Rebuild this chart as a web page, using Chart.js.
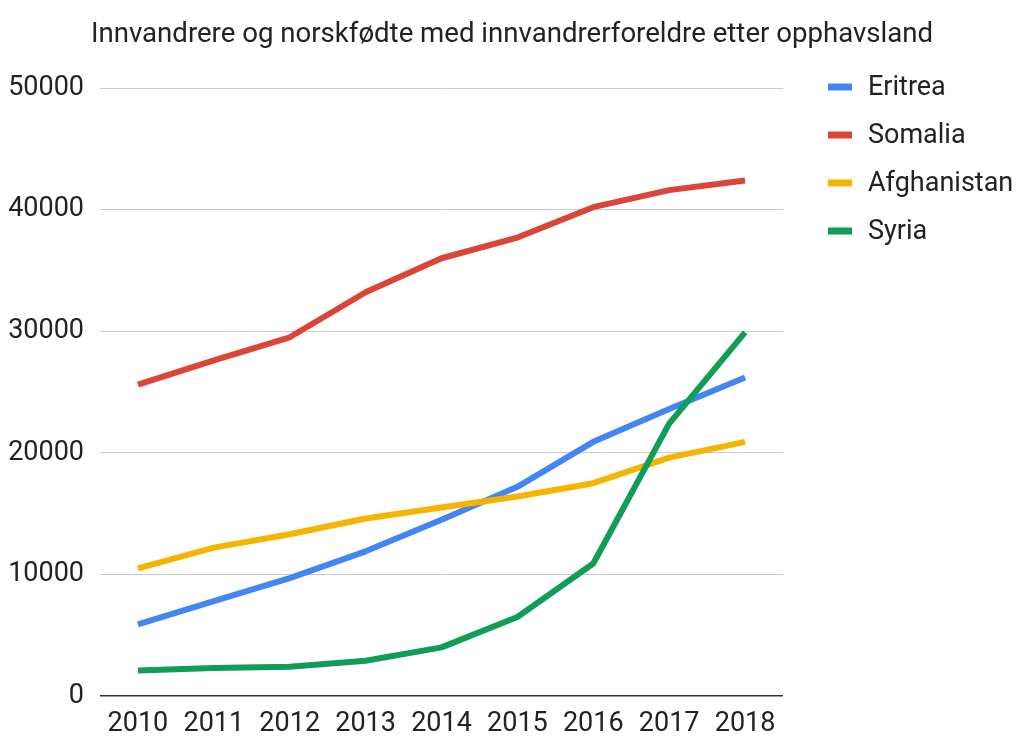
<!DOCTYPE html>
<html>
<head>
<meta charset="utf-8">
<script src="https://cdn.jsdelivr.net/npm/chart.js@4/dist/chart.umd.min.js"></script>
<style>
  html, body { margin: 0; padding: 0; background: #fff; }
  #wrap { width: 1024px; height: 753px; position: relative; }
</style>
</head>
<body>
<div id="wrap"><canvas id="c"></canvas></div>
<script>
const titleText = "Innvandrere og norskfødte med innvandrerforeldre etter opphavsland";
const years = ["2010","2011","2012","2013","2014","2015","2016","2017","2018"];
const yTicks = [0, 10000, 20000, 30000, 40000, 50000];
const seriesNames = ["Eritrea", "Somalia", "Afghanistan", "Syria"];
const seriesColors = ["#4285F4", "#DB4437", "#F4B400", "#0F9D58"];
const eritrea     = [5900, 7800, 9700, 11900, 14500, 17200, 20900, 23600, 26200];
const somalia     = [25600, 27600, 29500, 33200, 36000, 37700, 40200, 41600, 42400];
const afghanistan = [10500, 12200, 13300, 14600, 15500, 16400, 17500, 19600, 20900];
const syria       = [2100, 2300, 2400, 2900, 4000, 6500, 10900, 22400, 29900];
const seriesValues = [eritrea, somalia, afghanistan, syria];

const FONT = "Roboto, 'Noto Sans', sans-serif";

const datasets = seriesNames.map((name, i) => ({
  label: name,
  data: seriesValues[i],
  borderColor: seriesColors[i],
  backgroundColor: seriesColors[i],
  borderWidth: 6,
  pointRadius: 0,
  pointHoverRadius: 0,
  tension: 0,
  fill: false,
  borderCapStyle: 'butt',
  borderJoinStyle: 'round',
  order: seriesNames.length - i
}));

const textPlugin = {
  id: 'titleAndLegend',
  afterDraw(chart) {
    const ctx = chart.ctx;
    ctx.save();
    // title centred on full canvas width
    ctx.font = "27.6px " + FONT;
    ctx.fillStyle = '#222';
    ctx.textAlign = 'center';
    ctx.textBaseline = 'alphabetic';
    ctx.fillText(titleText, chart.width / 2, 42);
    // legend
    ctx.font = "27px " + FONT;
    ctx.textBaseline = 'middle';
    ctx.textAlign = 'left';
    chart.data.datasets.forEach((ds, i) => {
      const y = 87 + i * 48;
      ctx.fillStyle = ds.borderColor;
      ctx.fillRect(828, y - 3.5, 24, 7);
      ctx.fillStyle = '#222';
      ctx.fillText(ds.label, 868, y + 1);
    });
    ctx.restore();
  }
};

new Chart(document.getElementById('c'), {
  type: 'line',
  data: { labels: years, datasets },
  plugins: [textPlugin],
  options: {
    responsive: true,
    maintainAspectRatio: false,
    animation: false,
    layout: { padding: { left: 0, right: 241, top: 88, bottom: 0 } },
    plugins: {
      legend: { display: false },
      tooltip: { enabled: false },
      title: { display: false }
    },
    scales: {
      x: {
        offset: true,
        grid: { display: false, drawTicks: false },
        border: { display: false },
        ticks: {
          color: '#222',
          font: { family: FONT, size: 27 },
          padding: 12,
          maxRotation: 0,
          autoSkip: false
        },
        afterFit(scale) { scale.height = 57; }
      },
      y: {
        min: 0,
        max: 50000,
        border: { display: false },
        grid: {
          drawTicks: false,
          color: ctx => (ctx.tick && ctx.tick.value === 0) ? '#333' : '#cccccc',
          lineWidth: ctx => (ctx.tick && ctx.tick.value === 0) ? 1.5 : 1
        },
        afterBuildTicks(scale) { scale.ticks = yTicks.map(v => ({ value: v })); },
        ticks: {
          color: '#222',
          font: { family: FONT, size: 27 },
          padding: 16,
          callback: (v) => String(v)
        },
        afterFit(scale) { scale.width = 100; }
      }
    }
  }
});
</script>
</body>
</html>
